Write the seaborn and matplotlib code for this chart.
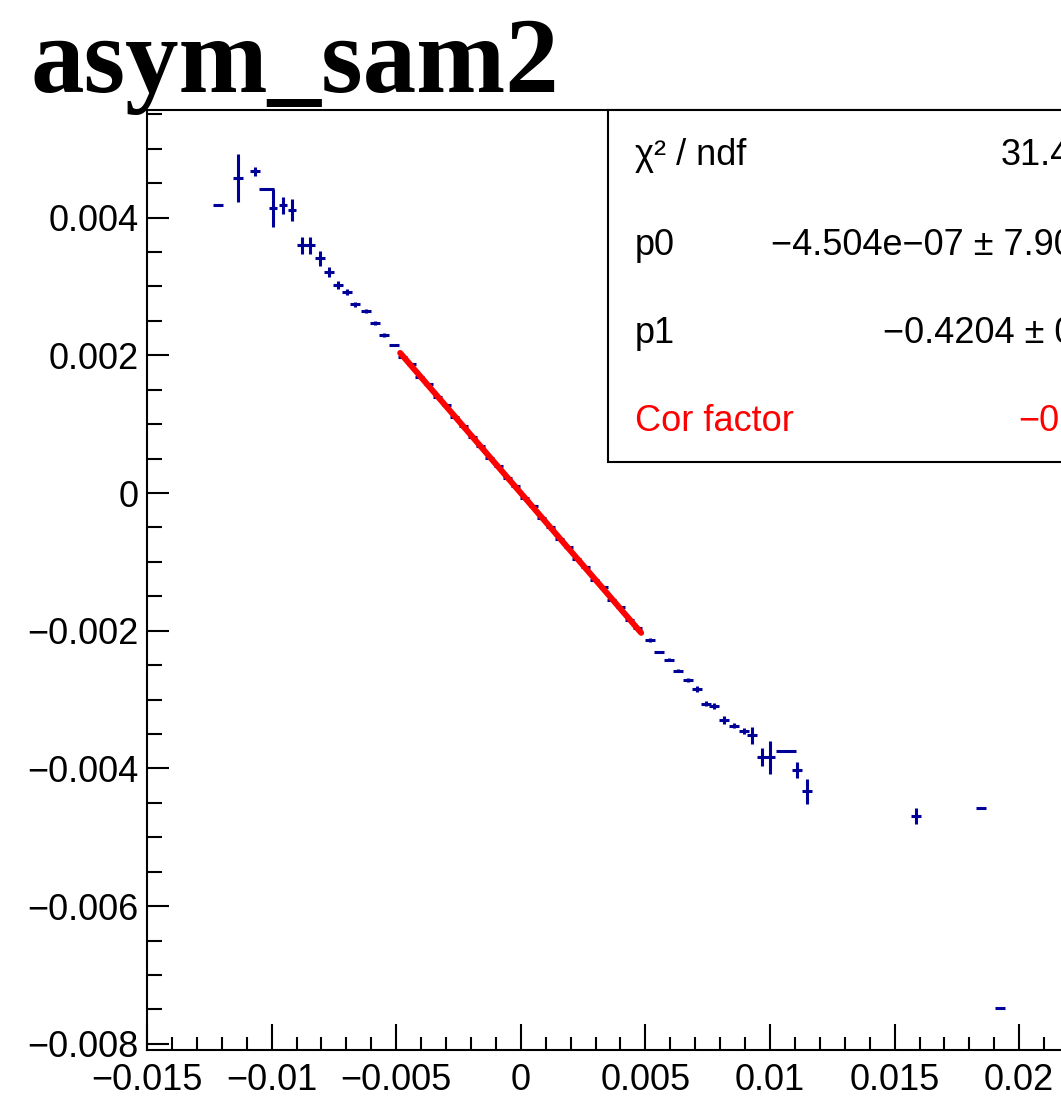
import matplotlib
matplotlib.use("Agg")
import pandas as pd
import seaborn as sns
import matplotlib.pyplot as plt
from matplotlib.ticker import MultipleLocator, FuncFormatter
from matplotlib.patches import Rectangle

# points (x, y, x half-width, y error)
asym_x = [-0.01214, -0.01134, -0.01066, -0.01022, -0.00993, -0.00953, -0.00917, -0.00879, -0.00844,
          -0.00804, -0.00770, -0.00733, -0.00697, -0.00664, -0.00621, -0.00586, -0.00550, -0.00510,
          -0.00475, -0.00440, -0.00405, -0.00370, -0.00335, -0.00300, -0.00265, -0.00230, -0.00195,
          -0.00160, -0.00125, -0.00090, -0.00055, -0.00020, 0.00015, 0.00050, 0.00085, 0.00120,
          0.00155, 0.00190, 0.00225, 0.00260, 0.00295, 0.00330, 0.00365, 0.00400, 0.00435, 0.00470,
          0.00520, 0.00556, 0.00596, 0.00632, 0.00670, 0.00707, 0.00743, 0.00776, 0.00816, 0.00854,
          0.00894, 0.00926, 0.00967, 0.01000, 0.01063, 0.01110, 0.01150, 0.01587, 0.01848, 0.01923]
asym_y = [0.00418, 0.00458, 0.00467, 0.00441, 0.00414, 0.00418, 0.00411, 0.00360, 0.00360,
          0.00341, 0.00321, 0.00302, 0.00292, 0.00274, 0.00264, 0.00247, 0.00229, 0.00215,
          0.00197, 0.00188, 0.00169, 0.00158, 0.00139, 0.00128, 0.00110, 0.00098, 0.00081,
          0.00069, 0.00051, 0.00039, 0.00022, 0.00010, -0.00007, -0.00019, -0.00037, -0.00049,
          -0.00067, -0.00078, -0.00096, -0.00108, -0.00126, -0.00137, -0.00155, -0.00166, -0.00184, -0.00196,
          -0.00214, -0.00231, -0.00242, -0.00258, -0.00272, -0.00285, -0.00306, -0.00309, -0.00330, -0.00338,
          -0.00346, -0.00352, -0.00384, -0.00384, -0.00375, -0.00402, -0.00433, -0.00469, -0.00458, -0.00748]
asym_ex = [0.0002, 0.0002, 0.0002, 0.0003, 0.00016, 0.00016, 0.00016, 0.0002, 0.0002,
           0.0002, 0.0002, 0.0002, 0.0002, 0.0002, 0.0002, 0.0002, 0.0002, 0.0002,
           0.00018, 0.00018, 0.00018, 0.00018, 0.00018, 0.00018, 0.00018, 0.00018, 0.00018,
           0.00018, 0.00018, 0.00018, 0.00018, 0.00018, 0.00018, 0.00018, 0.00018, 0.00018,
           0.00018, 0.00018, 0.00018, 0.00018, 0.00018, 0.00018, 0.00018, 0.00018, 0.00018, 0.00018,
           0.0002, 0.0002, 0.0002, 0.0002, 0.0002, 0.0002, 0.0002, 0.0002, 0.0002, 0.0002,
           0.0002, 0.0002, 0.0002, 0.0002, 0.0004, 0.0002, 0.0002, 0.0002, 0.0002, 0.0002]
asym_ey = [0.0, 0.00035, 0.00007, 0.0, 0.00028, 0.000125, 0.00016, 0.000125, 0.000125,
           0.00011, 0.00007, 0.00006, 0.00004, 0.00004, 0.00003, 0.00003, 0.00003, 0.00002,
           0.00001, 0.00001, 0.00001, 0.00001, 0.00001, 0.00001, 0.00001, 0.00001, 0.00001,
           0.00001, 0.00001, 0.00001, 0.00001, 0.00001, 0.00001, 0.00001, 0.00001, 0.00001,
           0.00001, 0.00001, 0.00001, 0.00001, 0.00001, 0.00001, 0.00001, 0.00001, 0.00001, 0.00001,
           0.00003, 0.0, 0.00002, 0.00002, 0.00003, 0.00004, 0.00004, 0.00004, 0.00006, 0.00004,
           0.00004, 0.00012, 0.00013, 0.00024, 0.0, 0.00012, 0.00018, 0.00012, 0.0, 0.0]

# fit pol1 over the central range
fit_range = [-0.00484, 0.00483]
p0 = -4.504e-07
p1 = -0.4204

stat_names = ["\u03c7\u00b2 / ndf", "p0", "p1", "Cor factor"]
stat_values = ["31.4", "\u22124.504e\u221207 \u00b1 7.90", "\u22120.4204 \u00b1 0", "\u22120"]
stat_value_px = [1001, 771, 883, 1018]
stat_base_px = [165, 255, 343, 431]
stat_colors = ["black", "black", "black", "red"]

sns.set_style("ticks")
plt.rcParams['font.family'] = ['Liberation Sans', 'DejaVu Sans']
plt.rcParams['text.color'] = 'black'

W, H = 1061, 1119
fig = plt.figure(figsize=(W / 100, H / 100), dpi=100)
ax = fig.add_axes([147 / W, (H - 1050) / H, 996.8 / W, 940 / H])

ax.errorbar(asym_x, asym_y, xerr=asym_ex, yerr=asym_ey, fmt='none',
            ecolor='#000099', elinewidth=2.2, capsize=0, zorder=2)

fit = pd.DataFrame({"x": fit_range})
fit["y"] = p0 + p1 * fit["x"]
sns.lineplot(data=fit, x="x", y="y", color="red", lw=4.3, ax=ax, zorder=3)

ax.set_xlim(-0.015, 0.025)
ax.set_ylim(-0.00809, 0.005563)
ax.set(xlabel="", ylabel="")

def fmt(v, pos):
    if abs(v) < 1e-12:
        return "0"
    return ("%g" % v).replace("-", "\u2212")

ax.xaxis.set_major_locator(MultipleLocator(0.005))
ax.xaxis.set_minor_locator(MultipleLocator(0.001))
ax.yaxis.set_major_locator(MultipleLocator(0.002))
ax.yaxis.set_minor_locator(MultipleLocator(0.0005))
ax.xaxis.set_major_formatter(FuncFormatter(fmt))
ax.yaxis.set_major_formatter(FuncFormatter(fmt))

ax.tick_params(which='both', direction='in', top=False, right=False, width=1.5,
               colors='black', labelcolor='black', labelsize=26)
ax.tick_params(axis='x', which='major', length=18.5, pad=9)
ax.tick_params(axis='x', which='minor', length=9.5)
ax.tick_params(axis='y', which='major', length=16, pad=6)
ax.tick_params(axis='y', which='minor', length=11)
for s in ax.spines.values():
    s.set_linewidth(1.5)
    s.set_color('black')

# stats box
box = Rectangle((608 / W, (H - 462) / H), 0.6, 352 / H, transform=fig.transFigure,
                facecolor='white', edgecolor='black', lw=1.5, zorder=5)
fig.add_artist(box)
for name, val, vx, by, c in zip(stat_names, stat_values, stat_value_px, stat_base_px, stat_colors):
    fig.text(635 / W, (H - by) / H, name, fontsize=26, color=c, va='baseline', zorder=6)
    fig.text(vx / W, (H - by) / H, val, fontsize=26, color=c, va='baseline', zorder=6)

fig.text(31 / W, (H - 92) / H, "asym_sam2", fontsize=77, fontweight='bold', color='black',
         family=['Liberation Serif', 'DejaVu Serif'], va='baseline')

fig.savefig("out.png", dpi=100)
